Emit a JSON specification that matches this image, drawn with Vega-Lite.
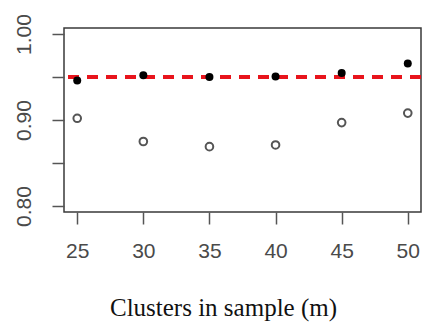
{
  "$schema": "https://vega.github.io/schema/vega-lite/v6.json",
  "autosize": "none",
  "width": 357,
  "height": 184,
  "padding": {"left": 64, "top": 28, "right": 3, "bottom": 111},
  "background": "white",
  "config": {
    "view": {"stroke": "#3a3a3a", "strokeWidth": 1.5},
    "axis": {"grid": false, "domain": false}
  },
  "data": {
    "values": [
      {"m": 25, "coverage": 0.946, "kind": "filled"},
      {"m": 30, "coverage": 0.952, "kind": "filled"},
      {"m": 35, "coverage": 0.950, "kind": "filled"},
      {"m": 40, "coverage": 0.9505, "kind": "filled"},
      {"m": 45, "coverage": 0.9547, "kind": "filled"},
      {"m": 50, "coverage": 0.9657, "kind": "filled"},
      {"m": 25, "coverage": 0.902, "kind": "open"},
      {"m": 30, "coverage": 0.875, "kind": "open"},
      {"m": 35, "coverage": 0.869, "kind": "open"},
      {"m": 40, "coverage": 0.871, "kind": "open"},
      {"m": 45, "coverage": 0.897, "kind": "open"},
      {"m": 50, "coverage": 0.908, "kind": "open"}
    ]
  },
  "encoding": {
    "x": {
      "field": "m", "type": "quantitative",
      "scale": {"domain": [24, 51], "nice": false, "zero": false},
      "axis": {
        "values": [25, 30, 35, 40, 45, 50],
        "tickSize": 12, "tickColor": "#555555", "tickWidth": 1.5,
        "labelFont": "Liberation Sans", "labelFontSize": 21, "labelColor": "#4a4a4a",
        "labelPadding": 16,
        "title": "Clusters in sample (m)",
        "titleFont": "Liberation Serif", "titleFontSize": 25, "titleFontWeight": "normal",
        "titleColor": "#111111",
        "titleX": 159, "titleY": 103, "titleAlign": "center", "titleBaseline": "alphabetic"
      }
    },
    "y": {
      "field": "coverage", "type": "quantitative",
      "scale": {"domain": [0.793, 1.007], "nice": false, "zero": false},
      "axis": {
        "values": [0.8, 0.85, 0.9, 0.95, 1.0],
        "labelExpr": "(abs(datum.value - 0.85) < 0.001 || abs(datum.value - 0.95) < 0.001) ? '' : format(datum.value, '.2f')",
        "tickSize": 12, "tickColor": "#555555", "tickWidth": 1.5,
        "labelFont": "Liberation Sans", "labelFontSize": 21, "labelColor": "#4a4a4a",
        "labelAngle": -90, "labelPadding": 18,
        "title": null
      }
    }
  },
  "layer": [
    {
      "transform": [{"filter": "datum.kind === 'open'"}],
      "mark": {"type": "point", "shape": "circle", "filled": false, "stroke": "#555555", "strokeWidth": 2, "size": 58, "opacity": 1}
    },
    {
      "mark": {"type": "rule", "color": "#e8141c", "strokeWidth": 3, "strokeDash": [11, 8]},
      "encoding": {"y": {"datum": 0.95}, "x": null}
    },
    {
      "transform": [{"filter": "datum.kind === 'filled'"}],
      "mark": {"type": "point", "shape": "circle", "filled": true, "color": "#000000", "size": 64, "opacity": 1}
    }
  ]
}
